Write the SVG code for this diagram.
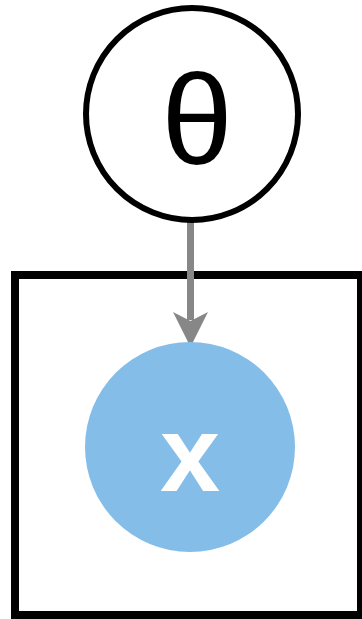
<svg xmlns="http://www.w3.org/2000/svg" width="362" height="619" viewBox="0 0 362 619">
<style>
.plate{fill:none;stroke:#000;stroke-width:8}
.param{fill:#fff;stroke:#000;stroke-width:6}
.obs{fill:#85bde9;stroke:none}
.lbl{font-family:"Liberation Sans",Arial,sans-serif;text-anchor:middle}
.edge{stroke:#878787;stroke-width:7;fill:none}
.head{fill:#878787}
</style>
<rect id="plate" class="plate" x="15" y="275" width="346" height="340"/>
<g id="connectors">
<line class="edge" x1="190.5" y1="218" x2="190.5" y2="320"/>
<path class="head" d="M173,312 L190.5,321 L208,312 L190.5,347 Z"/>
</g>
<g id="theta">
<circle class="param" cx="192" cy="114" r="106"/>
<text class="lbl" x="197" y="164" font-size="128">θ</text>
</g>
<g id="x">
<circle class="obs" cx="190" cy="447" r="105"/>
<text class="lbl" x="190" y="491" font-size="108" font-weight="bold" fill="#fff">x</text>
</g>
</svg>
